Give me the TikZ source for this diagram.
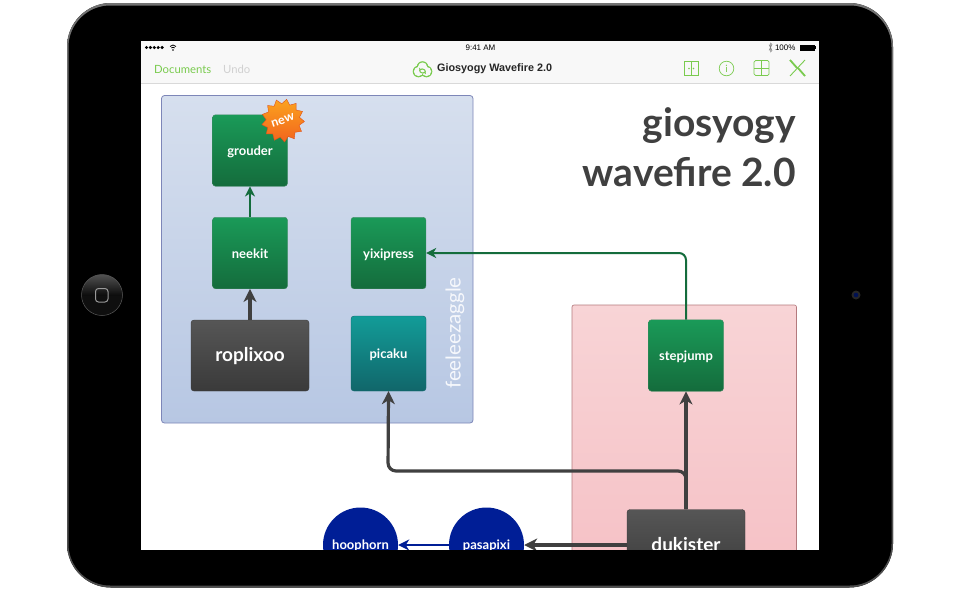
\documentclass[tikz,border=0pt]{standalone}
\usepackage{fontspec}
\setmainfont{Lato}
\newfontfamily\statusfont{Liberation Sans}
\usetikzlibrary{arrows.meta,shapes.geometric}
\definecolor{tint}{HTML}{7ACB4F}
\definecolor{ink}{HTML}{404040}
\definecolor{leaf}{HTML}{146C3C}
\definecolor{navy}{HTML}{001E96}
\definecolor{leafTop}{HTML}{1A9A58}
\definecolor{leafBot}{HTML}{146C3C}
\definecolor{tealTop}{HTML}{129C98}
\definecolor{tealBot}{HTML}{11666A}
\definecolor{darkTop}{HTML}{565656}
\definecolor{darkBot}{HTML}{3A3A3A}
\definecolor{blueTop}{HTML}{D6DFEE}
\definecolor{blueBot}{HTML}{B7C7E3}
\definecolor{blueLine}{HTML}{7D86B8}
\definecolor{pinkTop}{HTML}{F8D4D6}
\definecolor{pinkBot}{HTML}{F5BFC4}
\definecolor{pinkLine}{HTML}{B47A7E}
\definecolor{burstTop}{HTML}{FBA31E}
\definecolor{burstBot}{HTML}{F2641E}
\definecolor{burstLine}{HTML}{E0521A}
\definecolor{barGray}{HTML}{F8F8F8}
\tikzset{
  box/.style={rounded corners=3pt,inner sep=0pt,text=white,text height=10.5pt,text depth=.5pt,font=\fontsize{13}{13}\selectfont\bfseries},
  greenbox/.style={box,minimum width=75pt,minimum height=71.5pt,top color=leafTop,bottom color=leafBot,draw=leaf!80,line width=.4pt},
  tealbox/.style={box,minimum width=75pt,minimum height=75pt,top color=tealTop,bottom color=tealBot,draw=tealBot,line width=.4pt},
  darkbox/.style={box,minimum width=118pt,minimum height=71pt,top color=darkTop,bottom color=darkBot,draw=darkBot,line width=.4pt,text height=13pt,text depth=.6pt,font=\fontsize{19}{19}\selectfont\bfseries},
  ballnode/.style={circle,fill=navy,minimum size=75pt,inner sep=0pt,text=white,text height=9pt,text depth=1pt,font=\fontsize{13}{13}\selectfont\bfseries},
  heavy/.style={ink,line width=3.2pt,-{Stealth[length=13pt,width=13pt,inset=4pt]}},
  thinlink/.style={leaf,line width=2pt,-{Stealth[length=10pt,width=10pt,inset=3pt]}},
  toolicon/.style={tint,line width=.7pt},
}
\begin{document}
\begin{tikzpicture}[x=1pt,y=-1pt]
  \useasboundingbox (0,0) rectangle (960,590);
  % tablet
  \fill[white] (0,0) rectangle (960,590);
  \fill[top color=black!55,bottom color=black!70,rounded corners=44pt] (67,3) rectangle (893,587.5);
  \fill[black,rounded corners=42pt] (68.5,5.5) rectangle (891.5,585.5);
  \fill[white] (141,41) rectangle (819,549.5);
  % home button and camera
  \fill[black!94] (102,295) circle (20.5);
  \fill[top color=black!68,bottom color=black!95] (81.5,295) arc (180:360:20.5) -- cycle;
  \draw[black!65,line width=.5pt] (102,295) circle (20.5);
  \draw[black!40,line width=1pt,rounded corners=3pt] (95.5,288.5) rectangle (108,302);
  \fill[black!85] (856,295) circle (4.5);
  \fill[navy!55!black] (856,295) circle (2.3);
  % status and tool bar
  \fill[barGray] (141,41) rectangle (819,83);
  \draw[black!15,line width=.8pt] (141,83) -- (819,83);
  \foreach \i in {0,1,2,3,4} \fill[black] (146.5+\i*3.9,47.5) circle (1.7);
  \fill[black] (173,50) circle (.8);
  \draw[black,line width=.8pt] (170,46.5) .. controls (172,44.5) and (174,44.5) .. (176,46.5) (171.3,48) .. controls (172.3,47) and (173.7,47) .. (174.7,48);
  \node[font=\statusfont\fontsize{8}{8}\selectfont] (clock) at (480.5,47.5) {9:41 AM};
  \node[font=\statusfont\fontsize{8}{8}\selectfont,anchor=east] (charge) at (799,47.5) {100\%};
  \draw[black!50,line width=.5pt] (769,44.5) -- (772,50.5) -- (770.5,52) -- (770.5,43) -- (772,44.5) -- (769,50.5);
  \fill[black] (800,44.5) rectangle (814.5,50.5);
  \fill[black] (815,46) rectangle (816,49);
  \node[font=\fontsize{11.3}{11}\selectfont,text=tint,anchor=west,inner sep=0pt] (documents) at (154,69) {Documents};
  \node[font=\fontsize{11.3}{11}\selectfont,text=black!18,anchor=west,inner sep=0pt] (undo) at (223,69) {Undo};
  \node[font=\statusfont\fontsize{10.8}{11}\selectfont\bfseries,text=black!85,anchor=west,inner sep=0pt] (doctitle) at (437,68.5) {Giosyogy Wavefire 2.0};
  % cloud
  \fill[tint] (418.5,71.5) circle (5.8) (426.5,71.5) circle (5.8) (422.5,67) circle (5.8);
  \fill[barGray] (418.5,71.5) circle (4.6) (426.5,71.5) circle (4.6) (422.5,67) circle (4.6);
  \draw[tint,line width=1pt,-{Stealth[length=3pt,width=3.5pt]}] (419.5,70) arc (180:20:3);
  \draw[tint,line width=1pt,-{Stealth[length=3pt,width=3.5pt]}] (425.5,72) arc (0:-160:3);
  % tool icons
  \draw[toolicon] (684,61.5) rectangle (698.5,75.5) (691.2,61.5) -- (691.2,75.5);
  \fill[tint] (689,68.5) circle (.8) (693.5,68.5) circle (.8);
  \draw[toolicon] (726.5,68.5) circle (7.3);
  \node[font=\fontsize{10}{10}\selectfont\rmfamily,text=tint,inner sep=0pt] (infoicon) at (726.5,68.5) {i};
  \draw[toolicon,rounded corners=1.5pt] (754,60.5) rectangle (769,75.5);
  \draw[toolicon] (761.5,60.5) -- (761.5,75.5) (754,68) -- (769,68);
  \draw[toolicon,line width=.9pt] (790,60) -- (805,76) (805,60) -- (790,76);
  \draw[toolicon,line width=1.8pt] (790,60) -- (797,68) (805,76) -- (798,68);
  % screen content
  \begin{scope}
    \clip (141,84) rectangle (819,549.5);
    \draw[rounded corners=3pt,top color=blueTop,bottom color=blueBot,draw=blueLine,line width=.8pt] (161.5,95.5) rectangle (473,423);
    \draw[top color=pinkTop,bottom color=pinkBot,draw=pinkLine,line width=.6pt,rounded corners=2pt] (572,305) rectangle (796.5,600);
    \node[font=\fontsize{39}{39}\selectfont\bfseries,text=ink,anchor=base east,inner sep=0pt] (titleone) at (796,136) {giosyogy};
    \node[font=\fontsize{39}{39}\selectfont\bfseries,text=ink,anchor=base east,inner sep=0pt] (titletwo) at (796,186) {wavefire 2.0};
    \node[greenbox] (grouder) at (250,150.5) {grouder};
    \node[greenbox] (neekit) at (250,253) {neekit};
    \node[greenbox] (yixipress) at (388.5,253) {yixipress};
    \node[tealbox] (picaku) at (388.5,353.5) {picaku};
    \node[darkbox] (roplixoo) at (250,355.5) {roplixoo};
    \node[greenbox] (stepjump) at (686,355.5) {stepjump};
    \node[darkbox] (dukister) at (686,545) {dukister};
    \node[ballnode] (hoophorn) at (360.5,545) {hoophorn};
    \node[ballnode] (pasapixi) at (486.5,545) {pasapixi};
    \node[rotate=90,font=\fontsize{20.5}{20}\selectfont,text=white!88!blueBot] (feeleezaggle) at (455,333) {feeleezaggle};
    \node[star,star points=13,star point ratio=1.28,minimum size=43pt,inner sep=0pt,top color=burstTop,bottom color=burstBot,draw=burstLine,line width=.4pt,text=white,rotate=18,font=\fontsize{12.5}{12}\selectfont\bfseries] (burst) at (283,120.5) {new};
    \coordinate (bend) at (388,471);
    \draw[heavy] (roplixoo.north) -- (neekit.south);
    \draw[thinlink] (neekit.north) -- (grouder.south);
    \draw[thinlink,rounded corners=7pt] (stepjump.north) |- (yixipress.east);
    \draw[heavy] (dukister.north) -- (stepjump.south);
    \draw[heavy,rounded corners=8pt] (dukister.north) |- (bend) -- (picaku.south);
    \draw[heavy] (dukister.west) -- (pasapixi.east);
    \draw[navy,line width=2pt,-{Stealth[length=11pt,width=11pt,inset=3.5pt]}] (pasapixi.west) -- (hoophorn.east);
  \end{scope}
\end{tikzpicture}
\end{document}
